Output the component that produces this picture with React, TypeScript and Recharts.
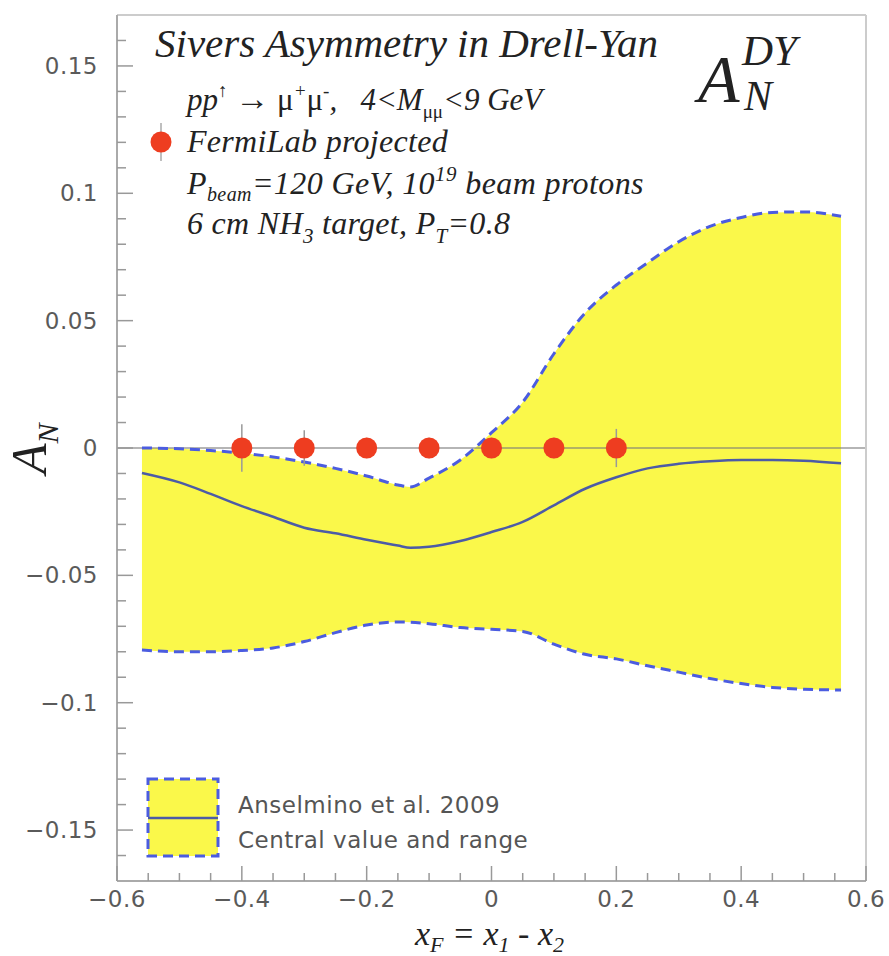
import React from "react";
import {
  ComposedChart,
  Area,
  Line,
  Scatter,
  ErrorBar,
  XAxis,
  YAxis,
  ReferenceLine,
} from "recharts";

// Anselmino et al. 2009 band
const bandX = [-0.56, -0.5, -0.45, -0.4, -0.35, -0.3, -0.25, -0.2, -0.15, -0.13, -0.1, -0.05, 0, 0.05, 0.1, 0.15, 0.2, 0.25, 0.3, 0.35, 0.4, 0.45, 0.5, 0.56];
const upperBound = [0.0, -0.0003, -0.001, -0.002, -0.0035, -0.0055, -0.008, -0.011, -0.0145, -0.0153, -0.0118, -0.0047, 0.006, 0.018, 0.037, 0.053, 0.064, 0.0727, 0.081, 0.087, 0.0905, 0.0925, 0.0927, 0.091];
const centralValue = [-0.0098, -0.0135, -0.018, -0.0228, -0.027, -0.0313, -0.0335, -0.036, -0.0383, -0.0392, -0.0388, -0.0365, -0.033, -0.029, -0.0225, -0.016, -0.0115, -0.008, -0.0062, -0.0052, -0.0047, -0.0047, -0.005, -0.006];
const lowerBound = [-0.0793, -0.08, -0.08, -0.0795, -0.0785, -0.076, -0.0725, -0.0695, -0.0683, -0.0684, -0.069, -0.0705, -0.0712, -0.072, -0.077, -0.081, -0.0828, -0.0855, -0.088, -0.0905, -0.0925, -0.094, -0.0947, -0.095];

// FermiLab projected points
const fermiX = [-0.4, -0.3, -0.2, -0.1, 0, 0.1, 0.2];
const fermiY = [0, 0, 0, 0, 0, 0, 0];
const fermiErr = [0.0093, 0.007, 0.004, 0.004, 0.004, 0.004, 0.0075];

// axis ticks
const xTicks = [-0.6, -0.55, -0.5, -0.45, -0.4, -0.35, -0.3, -0.25, -0.2, -0.15, -0.1, -0.05, 0, 0.05, 0.1, 0.15, 0.2, 0.25, 0.3, 0.35, 0.4, 0.45, 0.5, 0.55, 0.6];
const xMajor = [-0.6, -0.4, -0.2, 0, 0.2, 0.4, 0.6];
const xLabels = ["\u22120.6", "\u22120.4", "\u22120.2", "0", "0.2", "0.4", "0.6"];
const yTicks = [-0.16, -0.15, -0.14, -0.13, -0.12, -0.11, -0.1, -0.09, -0.08, -0.07, -0.06, -0.05, -0.04, -0.03, -0.02, -0.01, 0, 0.01, 0.02, 0.03, 0.04, 0.05, 0.06, 0.07, 0.08, 0.09, 0.1, 0.11, 0.12, 0.13, 0.14, 0.15, 0.16];
const yMajor = [-0.15, -0.1, -0.05, 0, 0.05, 0.1, 0.15];
const yLabels = ["\u22120.15", "\u22120.1", "\u22120.05", "0", "0.05", "0.1", "0.15"];

const YELLOW = "#faf84a";
const DASH_BLUE = "#4b5ce0";
const LINE_BLUE = "#4c5ba6";
const RED = "#ee3d20";
const TICK = "#999";

const bandData = bandX.map((x, i) => ({
  x,
  range: [lowerBound[i], upperBound[i]],
  upper: upperBound[i],
  lower: lowerBound[i],
  central: centralValue[i],
}));
const fermiData = fermiX.map((x, i) => ({ x, y: fermiY[i], err: fermiErr[i] }));

const tickFont = { fontFamily: "'DejaVu Sans', sans-serif", fontSize: 23, fill: "#5a5a5a", letterSpacing: 0.5 };

function XTick(props: any) {
  const { x, y, payload } = props;
  const i = xMajor.indexOf(payload.value);
  return (
    <g>
      <line x1={x} x2={x} y1={y} y2={y - (i >= 0 ? 15 : 8)} stroke={TICK} strokeWidth={1.5} />
      {i >= 0 && (
        <text x={x} y={y + 26} textAnchor="middle" {...tickFont}>
          {xLabels[i]}
        </text>
      )}
    </g>
  );
}

function YTick(props: any) {
  const { x, y, payload } = props;
  const i = yMajor.indexOf(payload.value);
  return (
    <g>
      <line x1={x} x2={x + (i >= 0 ? 16 : 9)} y1={y} y2={y} stroke={TICK} strokeWidth={1.5} />
      {i >= 0 && (
        <text x={x - 19} y={y + 8} textAnchor="end" {...tickFont}>
          {yLabels[i]}
        </text>
      )}
    </g>
  );
}

const dot = (p: any) => <circle cx={p.cx} cy={p.cy} r={10.5} fill={RED} />;

function Annotations() {
  const serif = { fontFamily: "'Liberation Serif', 'Times New Roman', serif", fontStyle: "italic", fill: "#222" } as const;
  return (
    <svg width={889} height={956} style={{ position: "absolute", left: 0, top: 0, pointerEvents: "none" }}>
      <text x={155} y={57} fontSize={41} {...serif}>Sivers Asymmetry in Drell-Yan</text>
      <text x={187} y={110} fontSize={31} xmlSpace="preserve" {...serif}>
        <tspan>pp</tspan>
        <tspan dy={-13} fontSize={19} fontStyle="normal">↑</tspan>
        <tspan dy={13}>{" "}</tspan>
        <tspan fontSize={34} fontStyle="normal">{"\u2192"}</tspan>
        <tspan>{" "}</tspan>
        <tspan fontStyle="normal">μ</tspan>
        <tspan dy={-13} fontSize={19}>+</tspan>
        <tspan dy={13} fontStyle="normal">μ</tspan>
        <tspan dy={-13} fontSize={19}>-</tspan>
        <tspan dy={13}>{",   4<M"}</tspan>
        <tspan dy={8} fontSize={19} fontStyle="normal">μμ</tspan>
        <tspan dy={-8}>{"<9 GeV"}</tspan>
      </text>
      <line x1={161} x2={161} y1={123} y2={161} stroke="#aaa" strokeWidth={1.5} />
      <circle cx={161} cy={142} r={10.5} fill={RED} />
      <text x={187} y={152} fontSize={32} letterSpacing={0.3} {...serif}>FermiLab projected</text>
      <text x={187} y={194} fontSize={32} letterSpacing={0.4} xmlSpace="preserve" {...serif}>
        <tspan>P</tspan>
        <tspan dy={7} fontSize={20}>beam</tspan>
        <tspan dy={-7}>{"=120 GeV, 10"}</tspan>
        <tspan dy={-13} fontSize={21}>19</tspan>
        <tspan dy={13}>{" beam protons"}</tspan>
      </text>
      <text x={187} y={234} fontSize={32} letterSpacing={0.3} xmlSpace="preserve" {...serif}>
        <tspan>{"6 cm NH"}</tspan>
        <tspan dy={9} fontSize={21}>3</tspan>
        <tspan dy={-9}>{" target, P"}</tspan>
        <tspan dy={9} fontSize={21}>T</tspan>
        <tspan dy={-9}>=0.8</tspan>
      </text>
      <text x={698} y={102} fontSize={68} {...serif}>A</text>
      <text x={742} y={65} fontSize={43} {...serif}>DY</text>
      <text x={744} y={110} fontSize={42} {...serif}>N</text>

      <text x={46} y={474} fontSize={50} transform="rotate(-90 46 474)" {...serif}>
        <tspan>A</tspan>
        <tspan dy={12} fontSize={30}>N</tspan>
      </text>
      <text x={415} y={945} fontSize={34} xmlSpace="preserve" {...serif}>
        <tspan>x</tspan>
        <tspan dy={7} fontSize={22}>F</tspan>
        <tspan dy={-7}>{" = x"}</tspan>
        <tspan dy={7} fontSize={22}>1</tspan>
        <tspan dy={-7}>{" - x"}</tspan>
        <tspan dy={7} fontSize={22}>2</tspan>
      </text>

      <rect x={148} y={779} width={70} height={77} fill={YELLOW} stroke={DASH_BLUE} strokeWidth={3} strokeDasharray="10 6" />
      <line x1={148} x2={218} y1={818} y2={818} stroke={LINE_BLUE} strokeWidth={2.5} />
      <text x={238} y={813} fontSize={23} letterSpacing={0.5} fontFamily="'DejaVu Sans', sans-serif" fill="#555">Anselmino et al. 2009</text>
      <text x={238} y={848} fontSize={23} letterSpacing={0.5} fontFamily="'DejaVu Sans', sans-serif" fill="#555">Central value and range</text>
    </svg>
  );
}

export default function App() {
  return (
    <div style={{ position: "absolute", left: 0, top: 0, width: 889, height: 956, background: "#fff" }}>
      <ComposedChart width={889} height={956} margin={{ top: 15, right: 23, bottom: 0, left: 0 }}>
        <XAxis
          dataKey="x"
          type="number"
          domain={[-0.6, 0.6]}
          ticks={xTicks}
          interval={0}
          height={75}
          tickSize={0}
          tickMargin={0}
          tick={<XTick />}
          axisLine={{ stroke: "#aaa", strokeWidth: 2 }}
          tickLine={false}
          allowDataOverflow
        />
        <YAxis
          type="number"
          domain={[-0.17, 0.17]}
          ticks={yTicks}
          interval={0}
          width={117}
          tickSize={0}
          tickMargin={0}
          tick={<YTick />}
          axisLine={{ stroke: "#aaa", strokeWidth: 2 }}
          tickLine={false}
          allowDataOverflow
        />
        <Area
          data={bandData}
          dataKey="range"
          type="monotone"
          fill={YELLOW}
          fillOpacity={1}
          stroke="none"
          isAnimationActive={false}
          activeDot={false}
        />
        <ReferenceLine y={0} stroke="rgba(120,120,120,0.55)" strokeWidth={2} />
        <ReferenceLine y={0.17} stroke="#ccc" strokeWidth={2} />
        <ReferenceLine x={0.6} stroke="#ccc" strokeWidth={2} />
        <Line data={bandData} dataKey="upper" type="monotone" stroke={DASH_BLUE} strokeWidth={3} strokeDasharray="10 6" dot={false} activeDot={false} isAnimationActive={false} />
        <Line data={bandData} dataKey="lower" type="monotone" stroke={DASH_BLUE} strokeWidth={3} strokeDasharray="10 6" dot={false} activeDot={false} isAnimationActive={false} />
        <Line data={bandData} dataKey="central" type="monotone" stroke={LINE_BLUE} strokeWidth={2.5} dot={false} activeDot={false} isAnimationActive={false} />
        <Scatter data={fermiData} dataKey="y" shape={dot} isAnimationActive={false}>
          <ErrorBar dataKey="err" direction="y" width={0} stroke="#999" strokeWidth={1.5} />
        </Scatter>
      </ComposedChart>
      <Annotations />
    </div>
  );
}
